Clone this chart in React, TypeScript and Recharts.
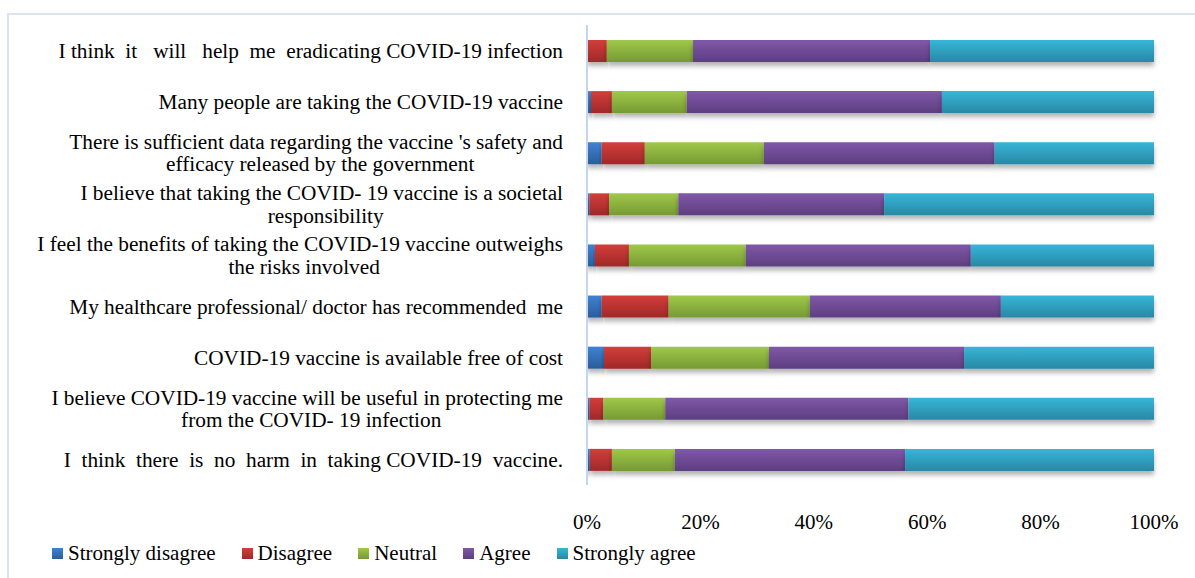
import React from 'react';
import { BarChart, Bar, XAxis, YAxis } from 'recharts';

const categories = [
  'I think  it   will   help  me  eradicating COVID-19 infection',
  'Many people are taking the COVID-19 vaccine',
  "There is sufficient data regarding the vaccine 's safety and\nefficacy released by the government",
  'I believe that taking the COVID- 19 vaccine is a societal\nresponsibility',
  'I feel the benefits of taking the COVID-19 vaccine outweighs\nthe risks involved',
  'My healthcare professional/ doctor has recommended  me',
  'COVID-19 vaccine is available free of cost',
  'I believe COVID-19 vaccine will be useful in protecting me\nfrom the COVID- 19 infection',
  'I  think  there  is  no  harm  in  taking COVID-19  vaccine.',
];

const stronglyDisagree = [0, 0.7, 2.6, 0.4, 1.4, 2.6, 3.0, 0.4, 0.5];
const disagree = [3.5, 3.7, 7.6, 3.5, 6.0, 11.8, 8.3, 2.5, 3.9];
const neutral = [15.2, 13.2, 21.0, 12.2, 20.6, 24.9, 20.8, 10.9, 11.1];
const agree = [41.8, 45.0, 40.7, 36.3, 39.7, 33.7, 34.4, 42.9, 40.6];
const stronglyAgree = [39.5, 37.4, 28.1, 47.6, 32.3, 27.0, 33.5, 43.3, 43.9];

const xTicks = [0, 0.2, 0.4, 0.6, 0.8, 1];

const data = categories.map((name, i) => ({
  name,
  stronglyDisagree: stronglyDisagree[i],
  disagree: disagree[i],
  neutral: neutral[i],
  agree: agree[i],
  stronglyAgree: stronglyAgree[i],
}));

const series = [
  { key: 'stronglyDisagree', label: 'Strongly disagree', top: '#3f82d2', bottom: '#2a5d9c' },
  { key: 'disagree', label: 'Disagree', top: '#d33e3b', bottom: '#a02828' },
  { key: 'neutral', label: 'Neutral', top: '#a0c84a', bottom: '#769a33' },
  { key: 'agree', label: 'Agree', top: '#8058a8', bottom: '#5d3e80' },
  { key: 'stronglyAgree', label: 'Strongly agree', top: '#36b6d8', bottom: '#2888a4' },
];

const FONT = '"Liberation Serif", "Times New Roman", serif';
const LABEL_SIZE = 21.3;

let ctx: CanvasRenderingContext2D | null = null;
const measure = (s: string) => {
  if (!ctx) ctx = document.createElement('canvas').getContext('2d');
  if (!ctx) return s.length * 9;
  ctx.font = `${LABEL_SIZE}px ${FONT}`;
  return ctx.measureText(s).width;
};

// category label: right aligned block, lines centred inside it
const CategoryTick = ({ y, payload }: any) => {
  const lines = String(payload.value).split('\n');
  const right = 563;
  if (lines.length === 1) {
    return (
      <text x={right} y={y} dy="0.35em" textAnchor="end" fontSize={LABEL_SIZE} fontFamily={FONT} fill="#000" style={{ whiteSpace: 'pre' }}>
        {lines[0]}
      </text>
    );
  }
  const maxW = Math.max(...lines.map(measure));
  const cx = right - maxW / 2 + 4;
  return (
    <g>
      {lines.map((line, i) => (
        <text
          key={i}
          x={i === 0 ? right : cx}
          y={y + (i - (lines.length - 1) / 2) * 22.5}
          dy="0.35em"
          textAnchor={i === 0 ? 'end' : 'middle'}
          fontSize={LABEL_SIZE}
          fontFamily={FONT}
          fill="#000"
          style={{ whiteSpace: 'pre' }}
        >
          {line}
        </text>
      ))}
    </g>
  );
};

const ChartLegend = () => (
  <div style={{ position: 'absolute', left: 52, top: 541, height: 24, display: 'flex', alignItems: 'center', fontFamily: FONT, fontSize: 21, color: '#000' }}>
    {series.map((s) => (
      <div key={s.key} style={{ display: 'flex', alignItems: 'center', marginRight: 26 }}>
        <span style={{ width: 11, height: 11, marginRight: 5, display: 'inline-block', background: `linear-gradient(${s.top}, ${s.bottom})` }}></span>
        <span>{s.label}</span>
      </div>
    ))}
  </div>
);

export default function App() {
  return (
    <div style={{ position: 'fixed', left: 0, top: 0, width: 1195, height: 578, overflow: 'hidden', background: '#fff' }}>
      <div style={{ position: 'absolute', left: 7, top: 13, width: 1400, height: 800, border: '2px solid #dae4f1' }} />
      <div style={{ position: 'absolute', left: 0, top: 0 }}>
        <BarChart
          width={1195}
          height={578}
          data={data}
          layout="vertical"
          stackOffset="expand"
          barSize={22}
          margin={{ top: 25, right: 41, left: 0, bottom: 63 }}
        >
          <defs>
            {series.map((s) => (
              <linearGradient key={s.key} id={`grad-${s.key}`} x1="0" y1="0" x2="0" y2="1">
                <stop offset="0%" stopColor={s.top} />
                <stop offset="100%" stopColor={s.bottom} />
              </linearGradient>
            ))}
            <filter id="barShadow" x="-5%" y="-50%" width="110%" height="200%">
              <feDropShadow dx="0" dy="4" stdDeviation="2.5" floodColor="#000" floodOpacity="0.3" />
            </filter>
          </defs>
          <XAxis
            type="number"
            domain={[0, 1]}
            ticks={xTicks}
            tickFormatter={(v) => `${Math.round(v * 100)}%`}
            axisLine={false}
            tickLine={false}
            height={30}
            tickMargin={23}
            tick={{ fontSize: 21, fontFamily: FONT, fill: '#000' }}
          />
          <YAxis
            type="category"
            dataKey="name"
            width={587}
            axisLine={{ stroke: '#c3d6ee', strokeWidth: 2 }}
            tickLine={false}
            interval={0}
            tick={<CategoryTick />}
          />
          {series.map((s) => (
            <Bar
              key={s.key}
              dataKey={s.key}
              stackId="a"
              fill={`url(#grad-${s.key})`}
              filter="url(#barShadow)"
              isAnimationActive={false}
            />
          ))}
        </BarChart>
      </div>
      <ChartLegend />
    </div>
  );
}
